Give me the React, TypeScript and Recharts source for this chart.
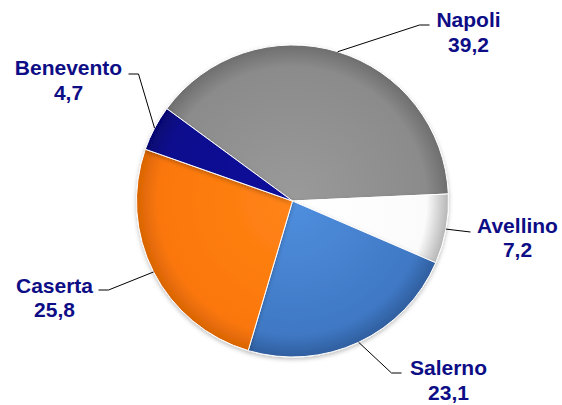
import React from 'react';
import { PieChart, Pie, Cell } from 'recharts';

const provinces = ['Napoli', 'Avellino', 'Salerno', 'Caserta', 'Benevento'];
const shares = [39.2, 7.2, 23.1, 25.8, 4.7];

const sliceColors = [
    { light: '#9a9a9a', base: '#8b8b8b', rim: '#6e6e6e' },
    { light: '#ffffff', base: '#fbfbfb', rim: '#b5b5b5' },
    { light: '#4f8fde', base: '#3f78c4', rim: '#2f5e9e' },
    { light: '#ff8416', base: '#fb770a', rim: '#d86405' },
    { light: '#12129c', base: '#0a0a8e', rim: '#060670' },
];

// leader line elbow / end and text anchor, relative to the pie centre
const labelLayout = [
    { elbowX: 127, elbowY: -176, endX: 137, textX: 176, line1: -174, line2: -149 },
    { elbowX: 178, elbowY: 31, endX: 178, textX: 225, line1: 32, line2: 56 },
    { elbowX: 99, elbowY: 172, endX: 109, textX: 156, line1: 174, line2: 199 },
    { elbowX: -184, elbowY: 89, endX: -194, textX: -238, line1: 92, line2: 116 },
    { elbowX: -154, elbowY: -127, endX: -164, textX: -224, line1: -126, line2: -101 },
];

const data = provinces.map((name, i) => ({ name, value: shares[i] }));

const RADIAN = Math.PI / 180;
const CX = 292.5;
const CY = 201;
const R = 156;
const TEXT_COLOR = '#0d0d86';

function renderLabel(props: any) {
    const { cx, cy, midAngle, outerRadius, index, name, value } = props;
    const lay = labelLayout[index];
    const sx = cx + outerRadius * Math.cos(-midAngle * RADIAN);
    const sy = cy + outerRadius * Math.sin(-midAngle * RADIAN);
    const ex = cx + lay.elbowX;
    const ey = cy + lay.elbowY;
    const tx = cx + lay.endX;
    return (
        <g>
            <path d={`M${sx},${sy}L${ex},${ey}L${tx},${ey}`} stroke="#000" strokeWidth={1} fill="none" />
            <text
                x={cx + lay.textX}
                y={cy + lay.line1}
                textAnchor="middle"
                fill={TEXT_COLOR}
                fontFamily="'Liberation Sans', Arial, sans-serif"
                fontWeight="bold"
                fontSize={21}
            >
                {name}
            </text>
            <text
                x={cx + lay.textX}
                y={cy + lay.line2}
                textAnchor="middle"
                fill={TEXT_COLOR}
                fontFamily="'Liberation Sans', Arial, sans-serif"
                fontWeight="bold"
                fontSize={21}
            >
                {value.toFixed(1).replace('.', ',')}
            </text>
        </g>
    );
}

export default function App() {
    return (
        <div style={{ position: 'absolute', left: 0, top: 0, width: 562, height: 405, background: '#fff' }}>
            <PieChart width={562} height={405} margin={{ top: 0, right: 0, bottom: 0, left: 0 }}>
                <defs>
                    {sliceColors.map((c, i) => (
                        <radialGradient key={i} id={`slice-${i}`} gradientUnits="userSpaceOnUse" cx={CX} cy={CY} r={R}>
                            <stop offset="0%" stopColor={c.light} />
                            <stop offset="86%" stopColor={c.base} />
                            <stop offset="100%" stopColor={c.rim} />
                        </radialGradient>
                    ))}
                    <filter id="pieShadow" x="-10%" y="-10%" width="120%" height="120%">
                        <feDropShadow dx="0" dy="2" stdDeviation="2" floodColor="#000" floodOpacity="0.25" />
                    </filter>
                </defs>
                <Pie
                    data={data}
                    dataKey="value"
                    nameKey="name"
                    cx={CX}
                    cy={CY}
                    outerRadius={R}
                    startAngle={143.7}
                    endAngle={-216.3}
                    stroke="#ffffff"
                    strokeWidth={1}
                    label={renderLabel}
                    labelLine={false}
                    isAnimationActive={false}
                    style={{ filter: 'url(#pieShadow)' }}
                >
                    {data.map((entry, i) => (
                        <Cell key={entry.name} fill={`url(#slice-${i})`} />
                    ))}
                </Pie>
            </PieChart>
        </div>
    );
}
